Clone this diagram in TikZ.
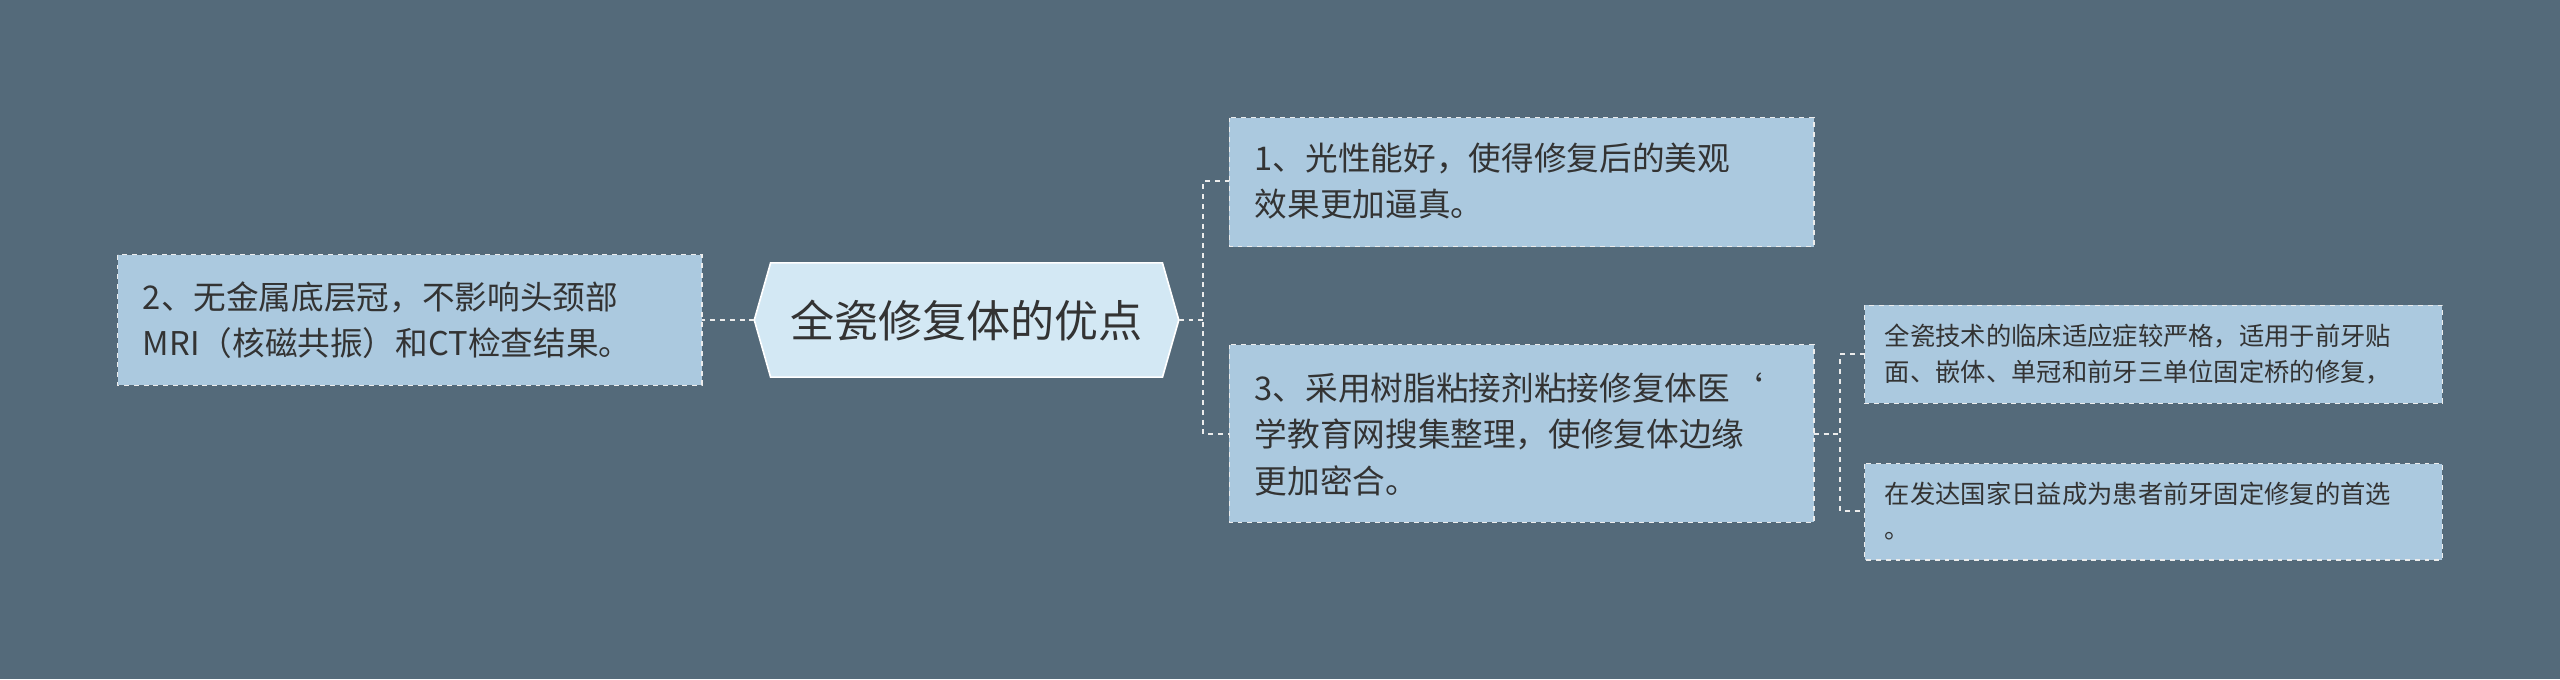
\documentclass[tikz,border=0pt]{standalone}
\usepackage{fontspec}
\setmainfont{Noto Sans CJK SC}
\begin{document}
\begin{tikzpicture}[x=1pt,y=-1pt,
  box/.style={draw=white!85!gray,dashed,line width=0.8pt,fill=boxc,anchor=north west,align=left,inner sep=0pt,font=\fontsize{20}{28.5}\selectfont,text=black!80},
  sbox/.style={box,font=\fontsize{15.5}{22}\selectfont},
  con/.style={draw=white!85!gray,dashed,line width=1pt}]
\definecolor{bg}{HTML}{546A7A}
\definecolor{boxc}{HTML}{ABC9DF}
\definecolor{hexc}{HTML}{D3E8F4}
\fill[bg] (0,0) rectangle (1568,416);
\useasboundingbox (0,0) rectangle (1568,416);
% center
\fill[hexc,draw=white,line width=1pt] (462,196)--(472,161)--(712,161)--(722,196)--(712,231)--(472,231)--cycle;
\node[font=\fontsize{27}{30}\selectfont,text=black!80] (c) at (592,196) {全瓷修复体的优点};
\coordinate (cl) at (462,196);
\coordinate (cr) at (722,196);
% boxes
\path[box] (72,156) rectangle (430,236);
\node[anchor=west,align=left,font=\fontsize{20}{28.5}\selectfont,text=black!80] (l) at (84,196) {2、无金属底层冠，不影响头颈部\\MRI（核磁共振）和CT检查结果。};
\coordinate (lr) at (430,196);
\path[box] (753,72) rectangle (1111,151);
\node[anchor=west,align=left,font=\fontsize{20}{28.5}\selectfont,text=black!80] (a) at (765,111) {1、光性能好，使得修复后的美观\\效果更加逼真。};
\coordinate (al) at (753,111);
\path[box] (753,211) rectangle (1111,320);
\node[anchor=west,align=left,font=\fontsize{20}{28.5}\selectfont,text=black!80] (b) at (765,266) {3、采用树脂粘接剂粘接修复体医`\\学教育网搜集整理，使修复体边缘\\更加密合。};
\coordinate (bl) at (753,266);
\coordinate (br) at (1111,266);
\path[box] (1142,187) rectangle (1496,247);
\node[anchor=west,align=left,font=\fontsize{15.5}{22}\selectfont,text=black!80] (s1) at (1151,217) {全瓷技术的临床适应症较严格，适用于前牙贴\\面、嵌体、单冠和前牙三单位固定桥的修复，};
\coordinate (s1l) at (1142,217);
\path[box] (1142,284) rectangle (1496,343);
\node[anchor=west,align=left,font=\fontsize{15.5}{22}\selectfont,text=black!80] (s2) at (1151,313) {在发达国家日益成为患者前牙固定修复的首选\\。};
\coordinate (s2l) at (1142,313);
% connectors
\draw[con] (cl)--(lr);
\draw[con] (cr)--(737,196);
\draw[con] (al)-|(737,196)|-(bl);
\draw[con] (br)--(1127,266);
\draw[con] (s1l)-|(1127,266)|-(s2l);
\end{tikzpicture}
\end{document}
